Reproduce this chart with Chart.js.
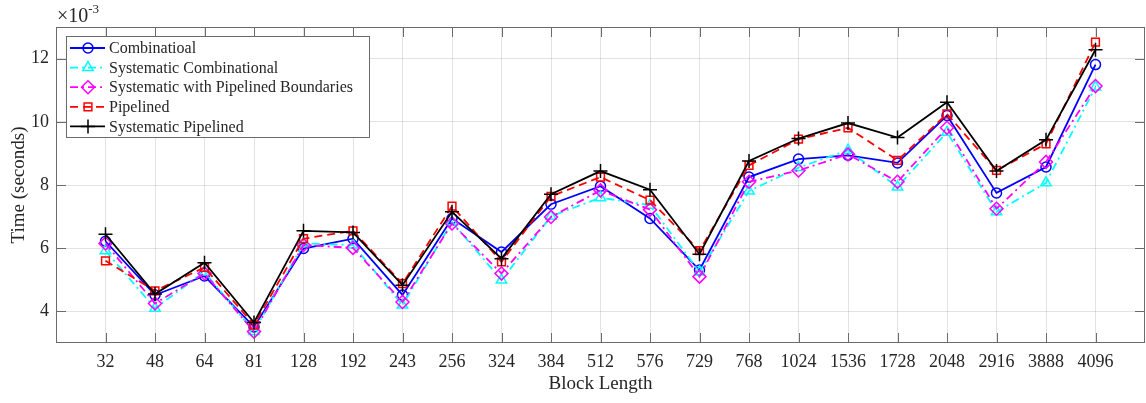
<!DOCTYPE html>
<html>
<head>
<meta charset="utf-8">
<title>Block Length vs Time</title>
<script src="https://cdn.jsdelivr.net/npm/chart.js@4/dist/chart.umd.min.js"></script>
<style>
  html, body { margin: 0; padding: 0; background: #fff; }
  #wrap { width: 1146px; height: 403px; }
</style>
</head>
<body>
<div id="wrap"><canvas id="timeChart" width="1146" height="403"></canvas></div>
<script>
// values are in units of 10^-3 seconds
const blockLengths = ['32', '48', '64', '81', '128', '192', '243', '256', '324', '384', '512',
                      '576', '729', '768', '1024', '1536', '1728', '2048', '2916', '3888', '4096'];
const combinational  = [6.22, 4.52, 5.12, 3.51, 5.99, 6.30, 4.52, 6.94, 5.88, 7.39, 7.96,
                        6.94, 5.31, 8.25, 8.82, 8.94, 8.70, 10.20, 7.75, 8.57, 11.81];
const sysComb        = [5.92, 4.10, 5.25, 3.36, 6.15, 6.10, 4.20, 6.83, 4.99, 7.01, 7.60,
                        7.36, 5.25, 7.81, 8.55, 9.10, 7.94, 9.67, 7.15, 8.07, 11.10];
const sysPipeBound   = [6.15, 4.25, 5.20, 3.36, 6.10, 6.01, 4.30, 6.78, 5.20, 6.99, 7.83,
                        7.22, 5.10, 8.10, 8.46, 8.97, 8.10, 9.81, 7.25, 8.73, 11.13];
const pipelined      = [5.60, 4.65, 5.39, 3.57, 6.30, 6.55, 4.88, 7.33, 5.57, 7.64, 8.25,
                        7.52, 5.92, 8.62, 9.45, 9.81, 8.78, 10.25, 8.46, 9.30, 12.52];
const sysPipelined   = [6.44, 4.55, 5.54, 3.65, 6.55, 6.50, 4.83, 7.15, 5.67, 7.71, 8.44,
                        7.85, 5.81, 8.76, 9.47, 9.96, 9.50, 10.62, 8.44, 9.43, 12.28];
const yTicks = [4, 6, 8, 10, 12];

const FONT = "'Liberation Serif', 'Times New Roman', serif";
const TEXT = '#262626';
const AXIS = '#6b6b6b';
const TICK_LEN = 10;

function series(label, values, color, dash, style, radius, order) {
  return {
    label: label,
    data: values.map((v, i) => ({ x: i + 1, y: v })),
    borderColor: color,
    borderWidth: 1.8,
    borderDash: dash,
    pointStyle: style,
    pointRadius: radius,
    pointHoverRadius: radius,
    pointBorderColor: color,
    pointBorderWidth: 1.5,
    pointBackgroundColor: 'rgba(0,0,0,0)',
    tension: 0,
    order: order
  };
}

const datasets = [
  series('Combinatioal', combinational, '#0000ff', [], 'circle', 5, 5),
  series('Systematic Combinational', sysComb, '#00ffff', [8, 4, 2, 4], 'triangle', 6, 4),
  series('Systematic with Pipelined Boundaries', sysPipeBound, '#ff00ff', [8, 4, 2, 4], 'rectRot', 6.5, 3),
  series('Pipelined', pipelined, '#ff0000', [8, 5], 'rect', 5.5, 2),
  series('Systematic Pipelined', sysPipelined, '#000000', [], 'cross', 7, 1)
];

// MATLAB style box, inward ticks, exponent label and legend
const matlabAxes = {
  id: 'matlabAxes',
  afterDraw(chart) {
    const { ctx, chartArea: a, scales: { x, y } } = chart;
    ctx.save();
    ctx.strokeStyle = AXIS;
    ctx.lineWidth = 1;
    ctx.setLineDash([]);
    ctx.strokeRect(a.left + 0.5, a.top + 0.5, a.right - a.left - 1, a.bottom - a.top - 1);
    ctx.beginPath();
    x.ticks.forEach(t => {
      const px = Math.round(x.getPixelForValue(t.value)) + 0.5;
      ctx.moveTo(px, a.bottom); ctx.lineTo(px, a.bottom - TICK_LEN);
      ctx.moveTo(px, a.top); ctx.lineTo(px, a.top + TICK_LEN);
    });
    y.ticks.forEach(t => {
      const py = Math.round(y.getPixelForValue(t.value)) + 0.5;
      ctx.moveTo(a.left, py); ctx.lineTo(a.left + TICK_LEN, py);
      ctx.moveTo(a.right, py); ctx.lineTo(a.right - TICK_LEN, py);
    });
    ctx.stroke();

    // exponent
    ctx.fillStyle = TEXT;
    ctx.textBaseline = 'alphabetic';
    ctx.textAlign = 'left';
    ctx.font = '20px ' + FONT;
    ctx.fillText('\u00d710', 57, 22);
    const w = ctx.measureText('\u00d710').width;
    ctx.font = '13px ' + FONT;
    ctx.fillText('-3', 57 + w, 13);

    // legend
    const lx = 66, ly = 36, lw = 303, lh = 101;
    ctx.fillStyle = '#ffffff';
    ctx.fillRect(lx, ly, lw, lh);
    ctx.strokeStyle = AXIS;
    ctx.strokeRect(lx + 0.5, ly + 0.5, lw, lh);
    ctx.font = '16px ' + FONT;
    ctx.textBaseline = 'middle';
    chart.data.datasets.forEach((ds, i) => {
      const rowY = 48 + i * 19.6;
      ctx.strokeStyle = ds.borderColor;
      ctx.lineWidth = ds.borderWidth;
      ctx.setLineDash(ds.borderDash);
      ctx.beginPath();
      ctx.moveTo(70, rowY); ctx.lineTo(105, rowY);
      ctx.stroke();
      ctx.setLineDash([]);
      ctx.lineWidth = ds.pointBorderWidth;
      ctx.fillStyle = 'rgba(0,0,0,0)';
      Chart.helpers.drawPoint(ctx, {
        pointStyle: ds.pointStyle, radius: ds.pointRadius, rotation: 0, borderWidth: ds.pointBorderWidth
      }, 88, rowY);
      ctx.fillStyle = TEXT;
      ctx.fillText(ds.label, 109, rowY + 1);
    });
    ctx.restore();
  }
};

new Chart(document.getElementById('timeChart'), {
  type: 'line',
  data: { datasets: datasets },
  options: {
    responsive: false,
    animation: false,
    events: [],
    layout: { autoPadding: false, padding: { top: 27, right: 1, left: 0, bottom: 4 } },
    plugins: { legend: { display: false }, tooltip: { enabled: false } },
    scales: {
      x: {
        type: 'linear',
        min: 0,
        max: blockLengths.length + 1,
        afterBuildTicks: s => { s.ticks = blockLengths.map((_, i) => ({ value: i + 1 })); },
        afterFit: s => { s.height = 56; s.paddingLeft = 0; s.paddingRight = 0; },
        ticks: {
          autoSkip: false,
          maxRotation: 0,
          padding: 8,
          color: TEXT,
          font: { family: FONT, size: 18 },
          callback: v => blockLengths[v - 1] || ''
        },
        grid: { color: 'rgba(38,38,38,0.13)', drawTicks: false },
        border: { display: false },
        title: { display: true, text: 'Block Length', color: TEXT, font: { family: FONT, size: 19 } }
      },
      y: {
        min: 3,
        max: 13,
        afterBuildTicks: s => { s.ticks = yTicks.map(v => ({ value: v })); },
        afterFit: s => { s.width = 56; s.paddingTop = 0; s.paddingBottom = 0; },
        ticks: {
          padding: 7,
          color: TEXT,
          font: { family: FONT, size: 18 }
        },
        grid: { color: 'rgba(38,38,38,0.13)', drawTicks: false },
        border: { display: false },
        title: { display: true, text: 'Time (seconds)', color: TEXT,
                 font: { family: FONT, size: 19, lineHeight: 1.6 } }
      }
    }
  },
  plugins: [matlabAxes]
});
</script>
</body>
</html>
